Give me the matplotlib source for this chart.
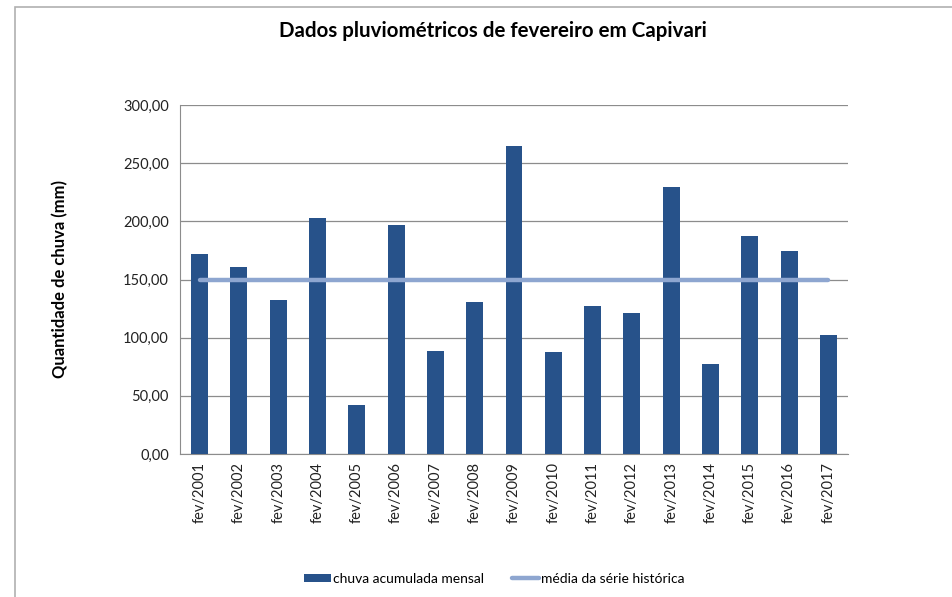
import matplotlib
matplotlib.use("Agg")
import matplotlib.pyplot as plt
from matplotlib.patches import Rectangle, Patch
from matplotlib.lines import Line2D

categories = ["fev/2001", "fev/2002", "fev/2003", "fev/2004", "fev/2005", "fev/2006",
              "fev/2007", "fev/2008", "fev/2009", "fev/2010", "fev/2011", "fev/2012",
              "fev/2013", "fev/2014", "fev/2015", "fev/2016", "fev/2017"]
rain = [172.1, 160.9, 132.5, 203.1, 42.2, 197.0, 88.6, 130.8, 265.0, 87.8,
        127.3, 121.3, 229.7, 77.4, 187.6, 174.7, 102.4]
mean_value = [150.0] * len(categories)
yticks = [0, 50, 100, 150, 200, 250, 300]
ytick_labels = ["0,00", "50,00", "100,00", "150,00", "200,00", "250,00", "300,00"]

plt.rcParams['font.family'] = ['Lato', 'DejaVu Sans']

W, H = 952, 597
fig = plt.figure(figsize=(W / 100, H / 100), dpi=100)
fig.patch.set_facecolor("white")

# chart border (left & top visible)
fig.add_artist(Rectangle((15 / W, -0.1), 1.2, (H - 7) / H + 0.1, transform=fig.transFigure,
                         fill=False, edgecolor="#b0b0b0", linewidth=1.2))

ax = fig.add_axes([180 / W, (H - 454) / H, 668 / W, 349 / H])
x = list(range(len(categories)))
ax.bar(x, rain, width=0.43, color="#27528A", zorder=3)
ax.plot(x, mean_value, color="#8EA6D0", linewidth=3.2, solid_capstyle="round", zorder=4)

ax.set_xlim(-0.5, len(categories) - 0.5)
ax.set_ylim(0, 300)
ax.set_yticks(yticks)
ax.set_yticklabels(ytick_labels, fontsize=10.5, color="#222222")
ax.set_xticks(x)
ax.set_xticklabels(categories, rotation=90, fontsize=10.5, color="#222222")
ax.tick_params(axis="both", length=0, pad=8)
ax.tick_params(axis="x", pad=6)
ax.yaxis.grid(True, color="#8c8c8c", linewidth=0.9, zorder=0)
ax.set_axisbelow(True)
for s in ["top", "right"]:
    ax.spines[s].set_visible(False)
ax.spines["left"].set_color("#8c8c8c")
ax.spines["bottom"].set_color("#8c8c8c")

ax.set_ylabel("Quantidade de chuva (mm)", fontsize=12, fontweight="bold")
ax.yaxis.set_label_coords(-(180 - 68) / 668, 0.5)

fig.text(493 / W, 1 - 31 / H, "Dados pluviométricos de fevereiro em Capivari",
         ha="center", va="center", fontsize=14.8, fontweight="bold")

handles = [Patch(facecolor="#27528A", edgecolor="none"),
           Line2D([0], [0], color="#8EA6D0", linewidth=3.2, solid_capstyle="round")]
leg = fig.legend(handles, ["chuva acumulada mensal", "média da série histórica"],
                 loc="center", bbox_to_anchor=(494 / W, 1 - 579 / H), ncol=2, frameon=False,
                 fontsize=10, handlelength=2.0, handleheight=0.55, handletextpad=0.1,
                 columnspacing=2.0)

fig.savefig("out.png", dpi=100, facecolor="white")
